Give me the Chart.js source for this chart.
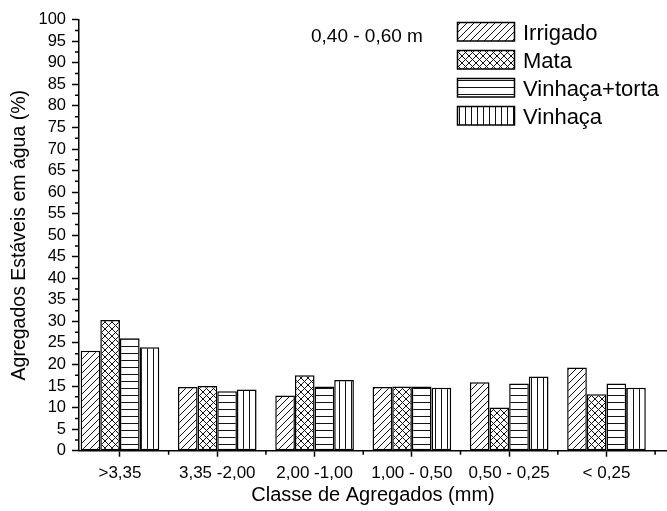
<!DOCTYPE html>
<html lang="pt">
<head>
<meta charset="utf-8">
<script src="https://cdn.jsdelivr.net/npm/chart.js@4.4.0/dist/chart.umd.min.js"></script>
<style>
  body { margin: 0; background: #fff; }
</style>
</head>
<body>
<canvas id="chart" width="667" height="511"></canvas>
<script>
var classes = ['>3,35', '3,35 -2,00', '2,00 -1,00', '1,00 - 0,50', '0,50 - 0,25', '< 0,25'];
var irrigado = [23.2, 14.8, 12.8, 14.8, 15.9, 19.3];
var mata = [30.3, 15.0, 17.5, 14.9, 10.0, 13.1];
var vinhacaTorta = [26.1, 13.8, 14.9, 14.9, 15.6, 15.6];
var vinhaca = [24.0, 14.2, 16.4, 14.6, 17.2, 14.6];
var seriesNames = ['Irrigado', 'Mata', 'Vinhaça+torta', 'Vinhaça'];
var depthLabel = '0,40 - 0,60 m';

var FONT = 'Arial, "Liberation Sans", sans-serif';

// hatch fills like the original plot
function makePattern(kind) {
  var c = document.createElement('canvas');
  var w = 7, h = 7;
  if (kind == 'vert') { w = 6; h = 6; }
  c.width = w; c.height = h;
  var g = c.getContext('2d');
  g.fillStyle = '#fff';
  g.fillRect(0, 0, w, h);
  g.strokeStyle = '#111';
  g.lineWidth = 1;
  g.beginPath();
  if (kind == 'diag' || kind == 'cross') {
    g.moveTo(-1, h + 1); g.lineTo(w + 1, -1);
    g.moveTo(-1, 1); g.lineTo(1, -1);
    g.moveTo(w - 1, h + 1); g.lineTo(w + 1, h - 1);
  }
  if (kind == 'cross') {
    g.moveTo(-1, -1); g.lineTo(w + 1, h + 1);
    g.moveTo(w - 1, -1); g.lineTo(w + 1, 1);
    g.moveTo(-1, h - 1); g.lineTo(1, h + 1);
  }
  if (kind == 'horiz') {
    g.moveTo(0, 3.5); g.lineTo(w, 3.5);
  }
  if (kind == 'vert') {
    g.moveTo(3.5, 0); g.lineTo(3.5, h);
  }
  g.stroke();
  return g.createPattern(c, 'repeat');
}

var fills = [makePattern('diag'), makePattern('cross'), makePattern('horiz'), makePattern('vert')];
var values = [irrigado, mata, vinhacaTorta, vinhaca];

var datasets = values.map(function(arr, k) {
  return {
    label: seriesNames[k],
    data: arr.map(function(v, i) { return {x: i + 1, y: v}; }),
    backgroundColor: fills[k],
    borderColor: '#000',
    borderWidth: 1.5,
    borderSkipped: false,
    categoryPercentage: 0.808,
    barPercentage: 1
  };
});

// minor ticks, legend and depth label
var extras = {
  id: 'extras',
  afterDraw: function(chart) {
    var ctx = chart.ctx;
    var xs = chart.scales.x, ys = chart.scales.y;
    ctx.save();
    ctx.strokeStyle = '#000';
    ctx.lineWidth = 1.5;
    ctx.beginPath();
    for (var v = 2.5; v < 100; v += 5) {
      var py = ys.getPixelForValue(v);
      ctx.moveTo(xs.left, py); ctx.lineTo(xs.left - 4, py);
    }
    for (var i = 0; i <= classes.length; i++) {
      var px = xs.getPixelForValue(i + 0.5);
      if (px < xs.left) continue;
      ctx.moveTo(px, ys.bottom); ctx.lineTo(px, ys.bottom + 4);
    }
    ctx.stroke();

    ctx.fillStyle = '#000';
    ctx.textBaseline = 'middle';
    ctx.font = '19px ' + FONT;
    ctx.fillText(depthLabel, 311, 37);

    ctx.font = '22px ' + FONT;
    chart.data.datasets.forEach(function(ds, k) {
      var top = 22.5 + k * 28;
      ctx.fillStyle = ds.backgroundColor;
      ctx.fillRect(457.5, top, 57, 18.5);
      ctx.strokeRect(457.5, top, 57, 18.5);
      ctx.fillStyle = '#000';
      ctx.fillText(ds.label, 523, top + 11);
    });
    ctx.restore();
  }
};

new Chart(document.getElementById('chart'), {
  type: 'bar',
  data: { datasets: datasets },
  plugins: [extras],
  options: {
    responsive: false,
    devicePixelRatio: 1,
    animation: false,
    layout: { padding: { top: 19.7, right: 0, left: 0, bottom: 0 } },
    plugins: { legend: { display: false }, tooltip: { enabled: false } },
    scales: {
      x: {
        type: 'linear',
        offset: false,
        min: 0.579,
        max: 6.622,
        afterBuildTicks: function(scale) {
          scale.ticks = classes.map(function(c, i) { return {value: i + 1}; });
        },
        afterFit: function(scale) { scale.height = 60.3; },
        grid: { offset: false, drawOnChartArea: false, tickLength: 6, tickColor: '#000', tickWidth: 1.5 },
        border: { color: '#000', width: 1.5 },
        ticks: {
          autoSkip: false, maxRotation: 0, padding: 6, color: '#000',
          font: { family: FONT, size: 17 },
          callback: function(v, i) { return classes[i]; }
        },
        title: {
          display: true, text: 'Classe de Agregados (mm)', color: '#000',
          font: { family: FONT, size: 20 }, padding: { top: 0, bottom: 4 }
        }
      },
      y: {
        min: 0,
        max: 100,
        afterFit: function(scale) { scale.width = 79; },
        grid: { drawOnChartArea: false, tickLength: 7, tickColor: '#000', tickWidth: 1.5 },
        border: { color: '#000', width: 1.5 },
        ticks: {
          stepSize: 5, autoSkip: false, padding: 6, color: '#000',
          font: { family: FONT, size: 16.5 }
        },
        title: {
          display: true, text: 'Agregados Estáveis em água (%)', color: '#000',
          font: { family: FONT, size: 19.5 }, padding: { top: 8, bottom: 0 }
        }
      }
    }
  }
});
</script>
</body>
</html>
